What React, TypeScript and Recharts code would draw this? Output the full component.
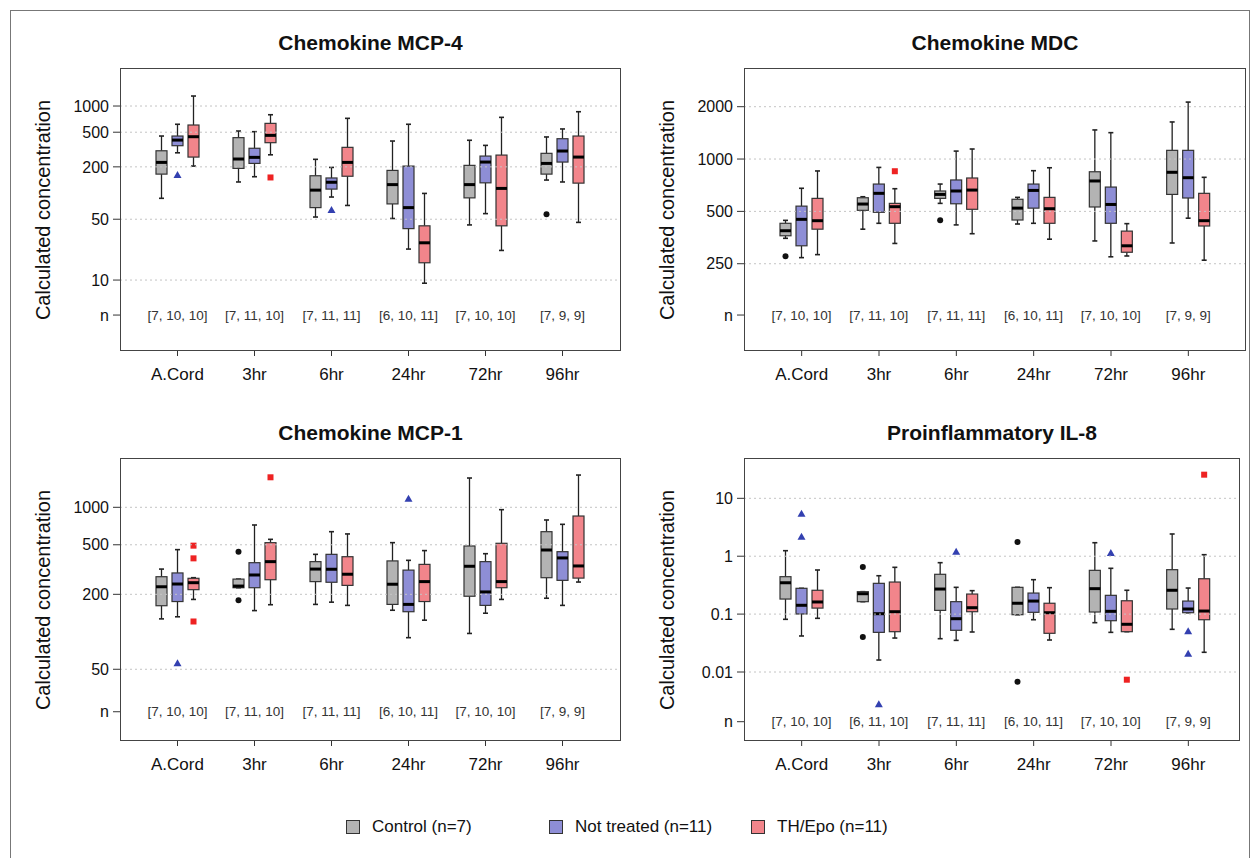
import React from 'react';
import { BarChart, Bar, XAxis, YAxis, ReferenceLine } from 'recharts';

const FONT = '"Liberation Sans", Arial, Helvetica, sans-serif';

const categories = ['A.Cord', '3hr', '6hr', '24hr', '72hr', '96hr'];

// each box: [whisker low, Q1, median, Q3, whisker high]
const mcp4Control = [[87, 165, 225, 306, 452], [134, 192, 246, 433, 516], [53, 68, 108, 158, 244], [51, 75, 125, 182, 396], [43, 88, 125, 208, 404], [141, 165, 219, 286, 441]];
const mcp4NotTreated = [[290, 350, 406, 452, 617], [154, 219, 257, 327, 507], [90, 111, 133, 149, 197], [22.7, 39, 68, 204, 617], [58, 131, 227, 266, 353], [134, 227, 304, 421, 545]];
const mcp4ThEpo = [[204, 259, 444, 605, 1303], [275, 379, 460, 632, 794], [72, 156, 225, 335, 722], [9.2, 15.8, 26.8, 42, 99], [21.9, 42, 113, 273, 741], [46, 130, 259, 452, 860]];
const mcp4ControlOut = [[], [], [], [], [], [57]];
const mcp4NotTreatedOut = [[161], [], [64], [], [], []];
const mcp4ThEpoOut = [[], [151], [], [], [], []];
const mcp4N = ['[7, 10, 10]', '[7, 11, 10]', '[7, 11, 11]', '[6, 10, 11]', '[7, 10, 10]', '[7, 9, 9]'];
const mcp4Ticks = [10, 50, 200, 500, 1000];

const mdcControl = [[350, 362, 387, 427, 444], [395, 507, 551, 599, 607], [556, 594, 626, 655, 718], [423, 446, 522, 587, 602], [338, 530, 748, 845, 1470], [329, 626, 839, 1122, 1634]];
const mdcNotTreated = [[271, 317, 450, 536, 679], [427, 494, 635, 718, 895], [418, 553, 655, 758, 1111], [427, 522, 660, 718, 857], [274, 427, 548, 690, 1418], [457, 597, 781, 1122, 2126]];
const mdcThEpo = [[282, 395, 442, 594, 854], [327, 427, 532, 556, 675], [372, 514, 663, 778, 1142], [346, 427, 518, 602, 891], [277, 291, 317, 385, 425], [262, 412, 442, 635, 785]];
const mdcControlOut = [[276], [], [444], [], [], []];
const mdcNotTreatedOut = [[], [], [], [], [], []];
const mdcThEpoOut = [[], [851], [], [], [], []];
const mdcN = ['[7, 10, 10]', '[7, 11, 10]', '[7, 11, 11]', '[6, 10, 11]', '[7, 10, 10]', '[7, 9, 9]'];
const mdcTicks = [250, 500, 1000, 2000];

const mcp1Control = [[127, 162, 230, 277, 319], [226, 226, 233, 265, 265], [166, 253, 319, 366, 419], [149, 166, 241, 371, 520], [97, 193, 336, 489, 1719], [186, 272, 454, 637, 791]];
const mcp1NotTreated = [[132, 175, 242, 297, 457], [148, 226, 286, 359, 721], [173, 250, 318, 419, 637], [89.7, 145, 166, 313, 375], [141, 163, 209, 366, 424], [163, 259, 392, 440, 730]];
const mcp1ThEpo = [[182, 218, 248, 269, 272], [165, 262, 366, 520, 553], [163, 236, 290, 401, 611], [124, 175, 253, 348, 449], [182, 226, 253, 514, 957], [251, 270, 338, 851, 1816]];
const mcp1ControlOut = [[], [440, 179], [], [], [], []];
const mcp1NotTreatedOut = [[55.8], [], [], [1172], [], []];
const mcp1ThEpoOut = [[492, 389, 121], [1742], [], [], [], []];
const mcp1N = ['[7, 10, 10]', '[7, 11, 10]', '[7, 11, 11]', '[6, 10, 11]', '[7, 10, 10]', '[7, 9, 9]'];
const mcp1Ticks = [50, 200, 500, 1000];

const il8Control = [[0.0813, 0.182, 0.348, 0.443, 1.245], [0.164, 0.164, 0.225, 0.244, 0.244], [0.0376, 0.116, 0.271, 0.487, 0.773], [0.0977, 0.0977, 0.154, 0.29, 0.29], [0.0711, 0.1087, 0.275, 0.57, 1.71], [0.0546, 0.1225, 0.258, 0.585, 2.42]];
const il8NotTreated = [[0.0419, 0.1005, 0.142, 0.279, 0.279], [0.0161, 0.0484, 0.1016, 0.34, 0.46], [0.0352, 0.0525, 0.0833, 0.164, 0.29], [0.08, 0.1074, 0.168, 0.231, 0.393], [0.0484, 0.0769, 0.1117, 0.211, 0.618], [0.1057, 0.1057, 0.1225, 0.168, 0.282]];
const il8ThEpo = [[0.0846, 0.127, 0.162, 0.258, 0.578], [0.0386, 0.0497, 0.11, 0.358, 0.643], [0.0491, 0.11, 0.129, 0.222, 0.254], [0.0357, 0.0466, 0.1057, 0.154, 0.286], [0.0497, 0.0497, 0.0667, 0.17, 0.258], [0.0219, 0.08, 0.113, 0.408, 1.062]];
const il8ControlOut = [[], [0.65, 0.0402], [], [1.76, 0.0068], [], []];
const il8NotTreatedOut = [[5.42, 2.17], [0.00277], [1.2], [], [1.135], [0.0505, 0.0207]];
const il8ThEpoOut = [[], [], [], [], [0.00736], [25.6]];
const il8N = ['[7, 10, 10]', '[6, 11, 10]', '[7, 11, 11]', '[6, 10, 11]', '[7, 10, 10]', '[7, 9, 9]'];
const il8Ticks = [0.01, 0.1, 1, 10];

const groups = [
  { name: 'Control (n=7)', fill: '#b3b3b3', mark: 'circle', markColor: '#111111' },
  { name: 'Not treated (n=11)', fill: '#8e8ed6', mark: 'triangle', markColor: '#3340b0' },
  { name: 'TH/Epo (n=11)', fill: '#f2858b', mark: 'square', markColor: '#ee2222' },
];

const panels = [
  {
    title: 'Chemokine MCP-4',
    series: [mcp4Control, mcp4NotTreated, mcp4ThEpo],
    outliers: [mcp4ControlOut, mcp4NotTreatedOut, mcp4ThEpoOut],
    nLabels: mcp4N, ticks: mcp4Ticks, domain: [1.53, 2735], nPos: 3.96,
    box: { left: 120, top: 68, right: 621, bottom: 351 }, pad: { left: 19, right: 20 },
  },
  {
    title: 'Chemokine MDC',
    series: [mdcControl, mdcNotTreated, mdcThEpo],
    outliers: [mdcControlOut, mdcNotTreatedOut, mdcThEpoOut],
    nLabels: mdcN, ticks: mdcTicks, domain: [78.7, 3339], nPos: 126.7,
    box: { left: 744, top: 68, right: 1246, bottom: 351 }, pad: { left: 19, right: 19 },
  },
  {
    title: 'Chemokine MCP-1',
    series: [mcp1Control, mcp1NotTreated, mcp1ThEpo],
    outliers: [mcp1ControlOut, mcp1NotTreatedOut, mcp1ThEpoOut],
    nLabels: mcp1N, ticks: mcp1Ticks, domain: [13.27, 2489], nPos: 22.8,
    box: { left: 120, top: 458, right: 621, bottom: 741 }, pad: { left: 19, right: 20 },
  },
  {
    title: 'Proinflammatory IL-8',
    series: [il8Control, il8NotTreated, il8ThEpo],
    outliers: [il8ControlOut, il8NotTreatedOut, il8ThEpoOut],
    nLabels: il8N, ticks: il8Ticks, domain: [0.000643, 49.7], nPos: 0.001386,
    box: { left: 744, top: 458, right: 1240, bottom: 741 }, pad: { left: 19, right: 13 },
  },
];

const extent = (d: any) => {
  const all = [...d.s, ...d.out];
  return [Math.min(...all), Math.max(...all)];
};

function Marker({ kind, cx, cy, color }: any) {
  if (kind === 'circle') return <circle cx={cx} cy={cy} r={3} fill={color} />;
  if (kind === 'triangle')
    return <polygon points={`${cx},${cy - 4} ${cx - 4},${cy + 3} ${cx + 4},${cy + 3}`} fill={color} />;
  return <rect x={cx - 3} y={cy - 3} width={6} height={6} fill={color} />;
}

function makeShape(gi: number, nPos: number) {
  const g = groups[gi];
  return (props: any) => {
    const { x, y, width, height, payload } = props;
    const d = payload['g' + gi];
    const [lo, hi] = extent(d);
    const L = Math.log10;
    const span = L(hi) - L(lo);
    const py = (v: number) => (span === 0 ? y : y + (height * (L(hi) - L(v))) / span);
    const [wl, q1, med, q3, wh] = d.s;
    const cx = x + width / 2;
    const cap = 2.5;
    return (
      <g>
        <line x1={cx} x2={cx} y1={py(wh)} y2={py(q3)} stroke="#222" strokeWidth={1.3} />
        <line x1={cx} x2={cx} y1={py(q1)} y2={py(wl)} stroke="#222" strokeWidth={1.3} />
        <line x1={cx - cap} x2={cx + cap} y1={py(wh)} y2={py(wh)} stroke="#222" strokeWidth={1.6} />
        <line x1={cx - cap} x2={cx + cap} y1={py(wl)} y2={py(wl)} stroke="#222" strokeWidth={1.6} />
        <rect x={x} y={py(q3)} width={width} height={Math.max(py(q1) - py(q3), 0.5)} fill={g.fill} stroke="#333" strokeWidth={1.2} />
        <line x1={x} x2={x + width} y1={py(med)} y2={py(med)} stroke="#000" strokeWidth={3} />
        {d.out.map((v: number, k: number) => (
          <Marker key={k} kind={g.mark} cx={cx} cy={py(v)} color={g.markColor} />
        ))}
        {gi === 1 && (
          <text x={cx} y={py(nPos)} textAnchor="middle" dominantBaseline="central" fontSize={13.5} fill="#333" fontFamily={FONT}>
            {payload.n}
          </text>
        )}
      </g>
    );
  };
}

function Panel({ p }: any) {
  const rows = categories.map((cat, i) => ({
    cat,
    n: p.nLabels[i],
    g0: { s: p.series[0][i], out: p.outliers[0][i] },
    g1: { s: p.series[1][i], out: p.outliers[1][i] },
    g2: { s: p.series[2][i], out: p.outliers[2][i] },
  }));
  const b = p.box;
  const w = b.right - b.left + 125;
  const h = b.bottom - b.top + 55;
  const fmt = (v: number) => (v === p.nPos ? 'n' : String(v));
  return (
    <>
      <div style={{ position: 'absolute', left: b.left, top: b.top - 37, width: b.right - b.left, textAlign: 'center', fontWeight: 'bold', fontSize: 21, color: '#111' }}>
        {p.title}
      </div>
      <div style={{ position: 'absolute', left: b.left - 77, top: (b.top + b.bottom) / 2, transform: 'translate(-50%, -50%) rotate(-90deg)', whiteSpace: 'nowrap', fontSize: 20, color: '#111' }}>
        Calculated concentration
      </div>
      <div style={{ position: 'absolute', left: b.left - 120, top: b.top - 10 }}>
        <BarChart width={w} height={h} data={rows} margin={{ top: 10, right: 5, left: 0, bottom: 0 }} barGap={5}>
          <XAxis
            dataKey="cat"
            interval={0}
            padding={{ left: p.pad.left, right: p.pad.right }}
            axisLine={false}
            tickLine={{ stroke: '#333' }}
            tickSize={5}
            tickMargin={12}
            height={45}
            tick={{ fontSize: 17, fill: '#111', fontFamily: FONT }}
          />
          <YAxis
            type="number"
            scale="log"
            domain={p.domain}
            allowDataOverflow
            ticks={[p.nPos, ...p.ticks]}
            tickFormatter={fmt}
            width={120}
            axisLine={false}
            tickLine={{ stroke: '#333' }}
            tickSize={7}
            tickMargin={4}
            tick={{ fontSize: 16, fill: '#111', fontFamily: FONT }}
          />
          {p.ticks.map((t: number) => (
            <ReferenceLine key={t} y={t} stroke="#c4c4c4" strokeDasharray="2 3" strokeWidth={1} />
          ))}
          {[0, 1, 2].map((gi) => (
            <Bar
              key={gi}
              name={groups[gi].name}
              dataKey={(r: any) => extent(r['g' + gi])}
              barSize={11}
              isAnimationActive={false}
              shape={makeShape(gi, p.nPos)}
            />
          ))}
        </BarChart>
      </div>
      <div style={{ position: 'absolute', left: b.left, top: b.top, width: b.right - b.left, height: b.bottom - b.top, border: '1.3px solid #444', boxSizing: 'border-box', pointerEvents: 'none' }} />
    </>
  );
}

const legendX = [346, 549, 751];

export default function App() {
  return (
    <div style={{ position: 'absolute', left: 0, top: 0, width: 1258, height: 858, overflow: 'hidden', background: '#fff', fontFamily: FONT }}>
      <div style={{ position: 'absolute', left: 10, top: 10, width: 1238, height: 870, border: '1px solid #777' }} />
      {panels.map((p) => (
        <Panel key={p.title} p={p} />
      ))}
      {groups.map((g, i) => (
        <div key={g.name} style={{ position: 'absolute', left: legendX[i], top: 816, display: 'flex', alignItems: 'center', height: 22 }}>
          <span style={{ display: 'inline-block', width: 12, height: 12, background: g.fill, border: '1.3px solid #333', marginRight: 12 }} />
          <span style={{ fontSize: 17, color: '#111' }}>{g.name}</span>
        </div>
      ))}
    </div>
  );
}
